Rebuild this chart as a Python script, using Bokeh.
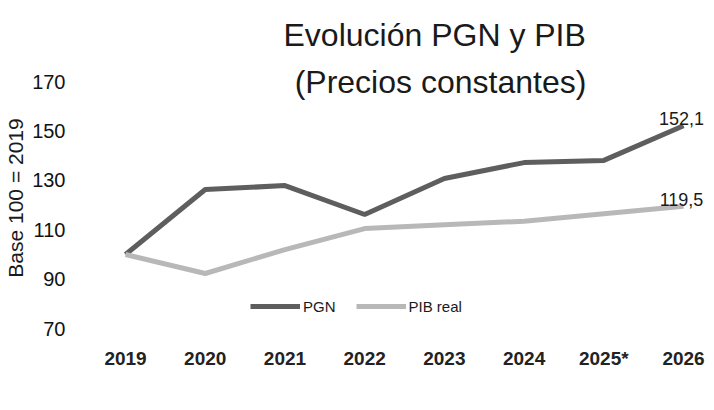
from bokeh.plotting import figure
from bokeh.models import ColumnDataSource, Label, Legend, LegendItem, FixedTicker, Range1d
from bokeh.core.properties import value
from bokeh.embed import file_html
from bokeh.resources import INLINE

years = [2019, 2020, 2021, 2022, 2023, 2024, 2025, 2026]
year_labels = ["2019", "2020", "2021", "2022", "2023", "2024", "2025*", "2026"]
pgn = [100.0, 126.3, 127.9, 116.2, 130.8, 137.2, 138.1, 152.1]
pib = [100.0, 92.3, 102.0, 110.5, 112.0, 113.5, 116.5, 119.5]
y_ticks = [70, 90, 110, 130, 150, 170]

W, H = 714, 410
frame_top, frame_bottom = 55, 340
p = figure(width=W, height=H, output_backend="svg", toolbar_location=None,
           title="Evolución PGN y PIB",
           x_range=Range1d(2018.661, 2026.376), y_range=Range1d(65.18, 180.57),
           min_border_left=98, min_border_right=1, min_border_top=frame_top,
           min_border_bottom=H - frame_bottom)
p.outline_line_color = None
p.xgrid.visible = False
p.ygrid.visible = False

p.title.align = "left"
p.title.offset = 185
p.title.standoff = 5
p.title.text_font = "Liberation Sans"
p.title.text_font_size = "32px"
p.title.text_font_style = "normal"
p.title.text_color = "#1a1a1a"

for ax in (p.xaxis[0], p.yaxis[0]):
    ax.axis_line_color = None
    ax.major_tick_line_color = None
    ax.minor_tick_line_color = None

p.xaxis.ticker = FixedTicker(ticks=years)
p.xaxis.major_label_overrides = {y: l for y, l in zip(years, year_labels)}
p.xaxis.major_label_text_font = "Liberation Sans"
p.xaxis.major_label_text_font_size = "19px"
p.xaxis.major_label_text_font_style = "bold"
p.xaxis.major_label_text_color = "#222222"
p.xaxis.major_label_standoff = 1

p.yaxis.ticker = FixedTicker(ticks=y_ticks)
p.yaxis.major_label_text_font = "Liberation Sans"
p.yaxis.major_label_text_font_size = "20px"
p.yaxis.major_label_text_color = "#111111"
p.yaxis.major_label_standoff = 27
p.yaxis.axis_label = "Base 100 = 2019"
p.yaxis.axis_label_standoff = 2
p.yaxis.axis_label_text_font = "Liberation Sans"
p.yaxis.axis_label_text_font_size = "21px"
p.yaxis.axis_label_text_font_style = "normal"
p.yaxis.axis_label_text_color = "#1a1a1a"

src = ColumnDataSource(dict(x=years, pgn=pgn, pib=pib))
r1 = p.line("x", "pgn", source=src, line_color="#5e5e5e", line_width=5)
r2 = p.line("x", "pib", source=src, line_color="#b8b8b8", line_width=5)

lab = ColumnDataSource(dict(x=[years[-1], years[-1]], y=[pgn[-1], pib[-1]],
                            t=[f"{pgn[-1]:.1f}".replace(".", ","), f"{pib[-1]:.1f}".replace(".", ",")]))
p.text("x", "y", text="t", source=lab, text_align="center", text_baseline="alphabetic",
       y_offset=-7, x_offset=-2, text_font=value("Liberation Sans"), text_font_size="18px",
       text_color="#1a1a1a")

p.add_layout(Label(x=342, y=frame_bottom - 81, x_units="screen", y_units="screen",
                   text="(Precios constantes)", text_align="center", text_baseline="alphabetic",
                   text_font="Liberation Sans", text_font_size="32px", text_color="#1a1a1a"))

legend = Legend(items=[LegendItem(label="PGN", renderers=[r1]),
                       LegendItem(label="PIB real", renderers=[r2])],
                location=(152, 24), orientation="horizontal", border_line_color=None,
                background_fill_alpha=0, padding=1, margin=1, spacing=20,
                glyph_width=50, label_standoff=3,
                label_text_font="Liberation Sans", label_text_font_size="15px",
                label_text_color="#1a1a1a")
p.add_layout(legend, "center")

open("out.html", "w").write(file_html(p, INLINE))
